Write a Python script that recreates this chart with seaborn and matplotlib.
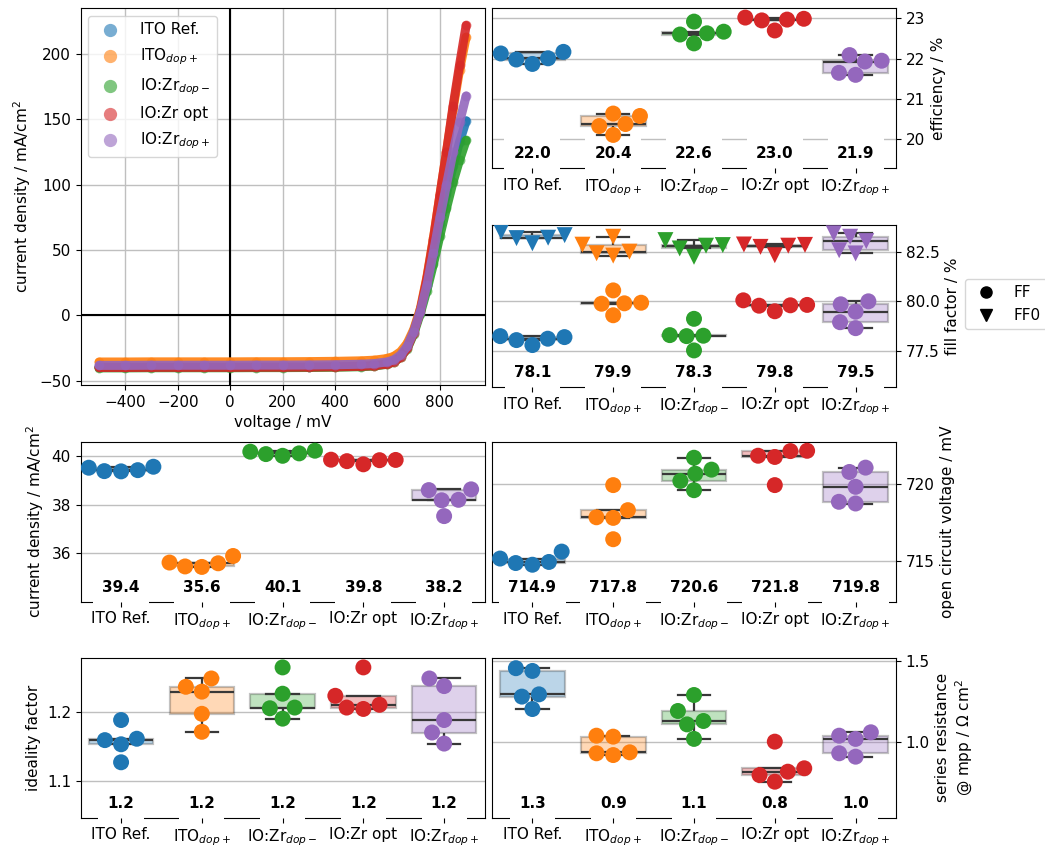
import numpy as np
import pandas as pd
import matplotlib
matplotlib.use("Agg")
import matplotlib.pyplot as plt
import matplotlib.transforms as mtransforms
from matplotlib.lines import Line2D
import seaborn as sns

# ---------------------------------------------------------------- data
samples = ["ITO Ref.", r"ITO$_{dop+}$", r"IO:Zr$_{dop-}$", "IO:Zr opt", r"IO:Zr$_{dop+}$"]

# J-V sweep of one representative cell per sample (mV, mA/cm^2)
voltage = [-500, -400, -300, -200, -100, 0, 100, 200, 300, 400, 500, 550, 600,
           625, 650, 675, 700, 725, 750, 775, 800, 825, 850, 875, 900]
jv_ito_ref = [-39.5, -39.5, -39.5, -39.4, -39.4, -39.4, -39.4, -39.3, -39.2, -39.0, -38.6, -38.0, -36.4,
              -34.4, -30.4, -23.4, -11.8, 3.8, 23.5, 46, 70, 93, 114, 133, 149]
jv_ito_dop_p = [-35.7, -35.7, -35.6, -35.6, -35.6, -35.6, -35.5, -35.5, -35.4, -35.2, -34.8, -34.3, -33.0,
                -31.3, -27.8, -21.5, -10.8, 4.8, 29, 59, 92, 125, 158, 188, 213]
jv_iozr_dop_m = [-40.2, -40.2, -40.1, -40.1, -40.1, -40.1, -40.0, -40.0, -39.9, -39.7, -39.3, -38.8, -37.4,
                 -35.6, -32.0, -25.6, -14.2, 1.2, 19, 39, 61, 82, 102, 119, 134]
jv_iozr_opt = [-39.9, -39.9, -39.8, -39.8, -39.8, -39.8, -39.7, -39.7, -39.6, -39.4, -39.0, -38.5, -37.2,
               -35.5, -32.0, -25.2, -13.2, 3.2, 28, 58, 92, 125, 160, 192, 222]
jv_iozr_dop_p = [-38.3, -38.3, -38.2, -38.2, -38.2, -38.2, -38.1, -38.1, -38.0, -37.8, -37.4, -36.9, -35.6,
                 -33.9, -30.3, -23.8, -12.6, 2.8, 23, 48, 75, 100, 125, 148, 168]

# cell parameters, five cells per sample
efficiency = [[22.13, 21.98, 21.87, 22.01, 22.17],
              [20.33, 20.64, 20.38, 20.58, 20.11],
              [22.92, 22.63, 22.60, 22.67, 22.38],
              [23.02, 22.95, 22.70, 22.97, 22.99],
              [22.09, 21.93, 21.95, 21.65, 21.60]]
fill_factor = [[78.25, 78.05, 78.12, 77.80, 78.20],
               [80.55, 79.93, 79.90, 79.88, 79.30],
               [79.12, 78.27, 78.25, 78.30, 77.53],
               [79.78, 80.05, 79.82, 79.80, 79.50],
               [79.85, 80.00, 79.48, 78.95, 78.65]]
fill_factor_0 = [[83.33, 83.20, 83.50, 82.92, 83.18],
                 [82.85, 82.42, 83.25, 82.30, 82.50],
                 [83.08, 82.66, 82.83, 82.24, 82.80],
                 [82.86, 82.74, 82.84, 82.32, 82.80],
                 [83.25, 83.03, 83.42, 82.57, 82.41]]
jsc = [[39.52, 39.38, 39.37, 39.42, 39.56],
       [35.62, 35.46, 35.89, 35.44, 35.59],
       [40.22, 40.08, 40.01, 40.11, 40.18],
       [39.84, 39.79, 39.66, 39.83, 39.85],
       [38.18, 38.60, 38.20, 38.63, 37.53]]
voc = [[715.15, 714.93, 715.60, 714.75, 714.86],
       [719.90, 717.78, 717.82, 718.28, 716.40],
       [721.67, 720.90, 720.64, 720.17, 719.57],
       [721.80, 721.72, 722.10, 722.12, 719.90],
       [721.03, 720.75, 719.79, 718.82, 718.71]]
ideality = [[1.188, 1.159, 1.161, 1.153, 1.127],
            [1.236, 1.248, 1.229, 1.197, 1.171],
            [1.264, 1.226, 1.206, 1.205, 1.190],
            [1.264, 1.223, 1.206, 1.204, 1.210],
            [1.248, 1.237, 1.188, 1.170, 1.154]]
series_res = [[1.455, 1.438, 1.293, 1.279, 1.202],
              [1.037, 1.031, 0.928, 0.917, 0.934],
              [1.289, 1.190, 1.128, 1.107, 1.017],
              [1.000, 0.793, 0.752, 0.814, 0.835],
              [1.037, 1.017, 1.058, 0.928, 0.907]]

colors = sns.color_palette("tab10", 5)
FS = 11

plt.rcParams.update({
    "font.size": FS,
    "axes.labelsize": FS,
    "xtick.labelsize": FS,
    "ytick.labelsize": FS,
    "legend.fontsize": FS,
})

fig = plt.figure(figsize=(10.45, 8.5), dpi=100)
W, H = 1045.0, 850.0


def add_axes(left, right, top, bottom):
    return fig.add_axes([left / W, 1 - bottom / H, (right - left) / W, (bottom - top) / H])


ax_jv = add_axes(80.7, 484.5, 8.3, 385)
ax_eff = add_axes(492, 896, 8.3, 168)
ax_ff = add_axes(492, 896, 225, 387)
ax_jsc = add_axes(80.7, 484.5, 441.7, 601.7)
ax_voc = add_axes(492, 896, 441.5, 602)
ax_n = add_axes(80.7, 484.5, 657.7, 817.7)
ax_rs = add_axes(492, 896, 657.7, 817.7)

# ---------------------------------------------------------------- J-V curves
curves = [jv_ito_ref, jv_ito_dop_p, jv_iozr_dop_m, jv_iozr_opt, jv_iozr_dop_p]
for i, (name, cur, col) in enumerate(zip(samples, curves, colors)):
    ax_jv.plot(voltage, cur, color=col, lw=6.5, alpha=0.9, solid_capstyle="round",
               solid_joinstyle="round", zorder=2 + i)
    sns.scatterplot(x=voltage, y=cur, color=col, s=50, alpha=0.6, linewidth=0,
                    label=name, ax=ax_jv, zorder=2.5 + i)
ax_jv.axhline(0, color="black", lw=1.5, zorder=1.5)
ax_jv.axvline(0, color="black", lw=1.5, zorder=1.5)
ax_jv.grid(True, color="0.75", lw=1)
ax_jv.set_axisbelow(True)
ax_jv.set_xlabel("voltage / mV")
ax_jv.set_ylabel("current density / mA/cm$^2$")
ax_jv.legend(loc="upper left", markerscale=1.35, labelspacing=0.6, handletextpad=1.0)


# ---------------------------------------------------------------- parameter panels
def long_frame(values):
    return pd.DataFrame({
        "sample": np.repeat(samples, [len(v) for v in values]),
        "value": np.concatenate(values),
    })


def box_swarm(ax, values, marker="o"):
    df = long_frame(values)
    sns.boxplot(data=df, x="sample", y="value", hue="sample", order=samples,
                hue_order=samples, palette=colors, saturation=1, width=0.8,
                showfliers=False, linecolor="0.22", linewidth=1.6,
                boxprops=dict(alpha=0.3), dodge=False, legend=False, ax=ax)
    sns.swarmplot(data=df, x="sample", y="value", hue="sample", order=samples,
                  hue_order=samples, palette=colors, size=11.5, marker=marker,
                  linewidth=0, legend=False, ax=ax, zorder=3)


def median_labels(ax, values):
    trans = mtransforms.blended_transform_factory(ax.transData, ax.transAxes)
    for i, v in enumerate(values):
        ax.text(i, 0.09, f"{np.median(v):.1f}", transform=trans, ha="center",
                va="center", fontsize=FS, fontweight="bold", zorder=2.8,
                clip_on=False,
                bbox=dict(boxstyle="square,pad=0.6", fc="white", ec="none"))


def style(ax, ylabel, ylim, yticks, right):
    ax.set_xlabel("")
    ax.set_ylabel(ylabel)
    ax.set_ylim(*ylim)
    ax.set_yticks(yticks)
    ax.set_xlim(-0.5, 4.5)
    ax.yaxis.grid(True, color="0.75", lw=1)
    ax.xaxis.grid(False)
    ax.set_axisbelow(True)
    # category ticks stay visible below the label boxes
    ax.xaxis.set_zorder(3.5)
    for s in ax.spines.values():
        s.set_visible(True)
        s.set_color("black")
        s.set_zorder(2.5)
    if right:
        ax.yaxis.tick_right()
        ax.yaxis.set_label_position("right")


box_swarm(ax_eff, efficiency)
median_labels(ax_eff, efficiency)
style(ax_eff, "efficiency / %", (19.29, 23.25), [20, 21, 22, 23], True)

box_swarm(ax_ff, fill_factor_0, marker="v")
box_swarm(ax_ff, fill_factor, marker="o")
median_labels(ax_ff, fill_factor)
style(ax_ff, "fill factor / %", (75.69, 83.84), [77.5, 80.0, 82.5], True)
ax_ff.yaxis.set_major_formatter(matplotlib.ticker.FormatStrFormatter("%.1f"))
ff_handles = [Line2D([], [], ls="", marker="o", color="black", ms=8, label="FF"),
              Line2D([], [], ls="", marker="v", color="black", ms=8, label="FF0")]
ax_ff.legend(handles=ff_handles, loc="center left", bbox_to_anchor=(1.171, 0.512),
             borderaxespad=0)

box_swarm(ax_jsc, jsc)
median_labels(ax_jsc, jsc)
style(ax_jsc, "current density / mA/cm$^2$", (34.01, 40.59), [36, 38, 40], False)

box_swarm(ax_voc, voc)
median_labels(ax_voc, voc)
style(ax_voc, "open circuit voltage / mV", (712.34, 722.72), [715, 720], True)

box_swarm(ax_n, ideality)
median_labels(ax_n, ideality)
style(ax_n, "ideality factor", (1.047, 1.278), [1.1, 1.2], False)

box_swarm(ax_rs, series_res)
median_labels(ax_rs, series_res)
style(ax_rs, "series resistance\n@ mpp / \u03a9 cm$^2$", (0.529, 1.52), [1.0, 1.5], True)

fig.savefig("out.png", dpi=100)
